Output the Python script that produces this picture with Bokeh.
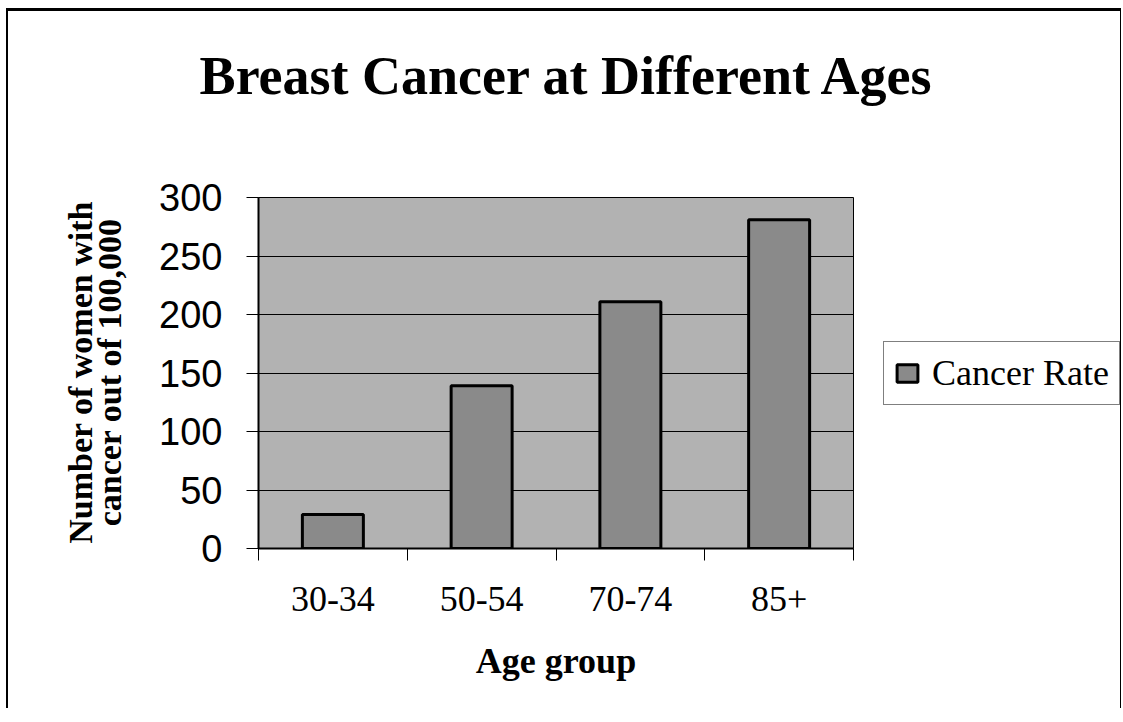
import math
from bokeh.plotting import figure
from bokeh.layouts import row, column
from bokeh.models import (FactorRange, Range1d, LinearAxis, CategoricalAxis, FixedTicker,
                          Legend, LegendItem, Label)
from bokeh.embed import file_html
from bokeh.resources import INLINE

# ---- data ----
age_groups = ["30-34", "50-54", "70-74", "85+"]
cancer_rate = [29, 139, 211, 281]
y_ticks = [0, 50, 100, 150, 200, 250, 300]
title_text = "Breast Cancer at Different Ages"
y_label_lines = ["Number of women with", "cancer out of 100,000"]
x_label = "Age group"
series_name = "Cancer Rate"

SERIF = "Liberation Serif"
SANS = "Liberation Sans"
BAR_FILL = "#8a8a8a"
PLOT_BG = "#b2b2b2"

TOTAL_W = 1112
TITLE_H = 150
YLAB_W = 130
LEG_W = 265
P_LEFT, P_TOP, P_RIGHT, P_BOTTOM = 120, 36, 2, 160
FRAME_W, FRAME_H = 595, 351
P_H = P_TOP + FRAME_H + P_BOTTOM


def blank_fig(w, h, **kw):
    f = figure(width=w, height=h, output_backend="svg", toolbar_location=None, title=None,
               x_axis_location=None, y_axis_location=None, min_border=0, **kw)
    f.outline_line_color = None
    f.grid.visible = False
    f.background_fill_color = "white"
    f.border_fill_color = "white"
    return f


# ---- title strip ----
t = blank_fig(TOTAL_W, TITLE_H, x_range=Range1d(0, TOTAL_W), y_range=Range1d(0, TITLE_H))
t.add_layout(Label(x=559, y=86, text=title_text, text_font=SERIF, text_font_style="bold",
                   text_font_size="54px", text_align="center", text_baseline="alphabetic",
                   text_color="black"))

# ---- y-axis title strip (its frame lines up with the chart frame) ----
yl = blank_fig(YLAB_W, P_H, x_range=Range1d(0, YLAB_W), y_range=Range1d(0, 300))
for xs, line in zip([72, 101], y_label_lines):
    yl.add_layout(Label(x=xs, y=150.5, text=line, angle=math.pi / 2,
                        text_font=SERIF, text_font_style="bold", text_font_size="34px",
                        text_align="center", text_baseline="middle", text_color="black"))

# ---- main chart ----
p = figure(x_range=FactorRange(*age_groups), y_range=Range1d(0, 300), title=None,
           frame_width=FRAME_W, frame_height=FRAME_H, output_backend="svg", toolbar_location=None,
           x_axis_location=None, y_axis_location="left",
           min_border_left=P_LEFT, min_border_top=P_TOP, min_border_right=P_RIGHT,
           min_border_bottom=P_BOTTOM)
p.background_fill_color = PLOT_BG
p.border_fill_color = "white"
p.outline_line_color = "black"
p.outline_line_width = 1
p.xgrid.visible = False
p.ygrid.grid_line_color = "black"
p.ygrid.grid_line_width = 1
p.ygrid.ticker = FixedTicker(ticks=y_ticks)

ya = p.yaxis[0]
ya.ticker = FixedTicker(ticks=y_ticks)
ya.major_label_text_font = SANS
ya.major_label_text_font_size = "38px"
ya.major_label_text_color = "black"
ya.major_tick_in = 0
ya.major_tick_out = 12
ya.major_tick_line_color = "black"
ya.major_label_standoff = 24
ya.minor_tick_line_color = None
ya.axis_line_color = "black"
ya.axis_line_width = 2

# tick marks at category boundaries (synthetic coordinates 0..n)
edge_axis = LinearAxis(ticker=FixedTicker(ticks=list(range(len(age_groups) + 1))),
                       major_label_text_font_size="0px", major_label_standoff=0,
                       major_tick_in=0, major_tick_out=12, minor_tick_line_color=None,
                       axis_line_color="black", axis_line_width=2, major_tick_line_color="black")
p.add_layout(edge_axis, "below")

cat_axis = CategoricalAxis(major_tick_line_color=None, axis_line_color=None,
                           major_label_text_font=SERIF, major_label_text_font_size="36px",
                           major_label_text_color="black", major_label_standoff=20,
                           axis_label=x_label, axis_label_text_font=SERIF,
                           axis_label_text_font_style="bold", axis_label_text_font_size="36px",
                           axis_label_text_color="black", axis_label_standoff=27)
p.add_layout(cat_axis, "below")

bars = p.vbar(x=age_groups, top=cancer_rate, width=0.41, fill_color=BAR_FILL,
              line_color="black", line_width=3)

# ---- legend strip (hidden copy of the series; only its legend entry shows) ----
q = blank_fig(LEG_W, P_H, x_range=FactorRange(*age_groups), y_range=Range1d(0, 300))
swatch = q.vbar(x=age_groups, top=cancer_rate, width=0.41, fill_color=BAR_FILL,
                line_color="black", line_width=3, visible=False)
legend = Legend(items=[LegendItem(label=series_name, renderers=[swatch])],
                location="center_left", margin=28, padding=10, spacing=0,
                border_line_color="black", border_line_width=1,
                background_fill_color="white", background_fill_alpha=1,
                inactive_fill_alpha=0,
                label_text_font=SERIF, label_text_font_size="36px", label_text_color="black",
                glyph_width=26, glyph_height=22, label_standoff=12, label_height=40)
q.add_layout(legend)

layout = column(t, row(yl, p, q, spacing=0), spacing=0)
layout.styles = {"margin-top": "8px", "margin-left": "6px",
                 "border-top": "3px solid black", "border-left": "2px solid black",
                 "border-right": "1px solid black"}

open("out.html", "w").write(file_html(layout, INLINE))
